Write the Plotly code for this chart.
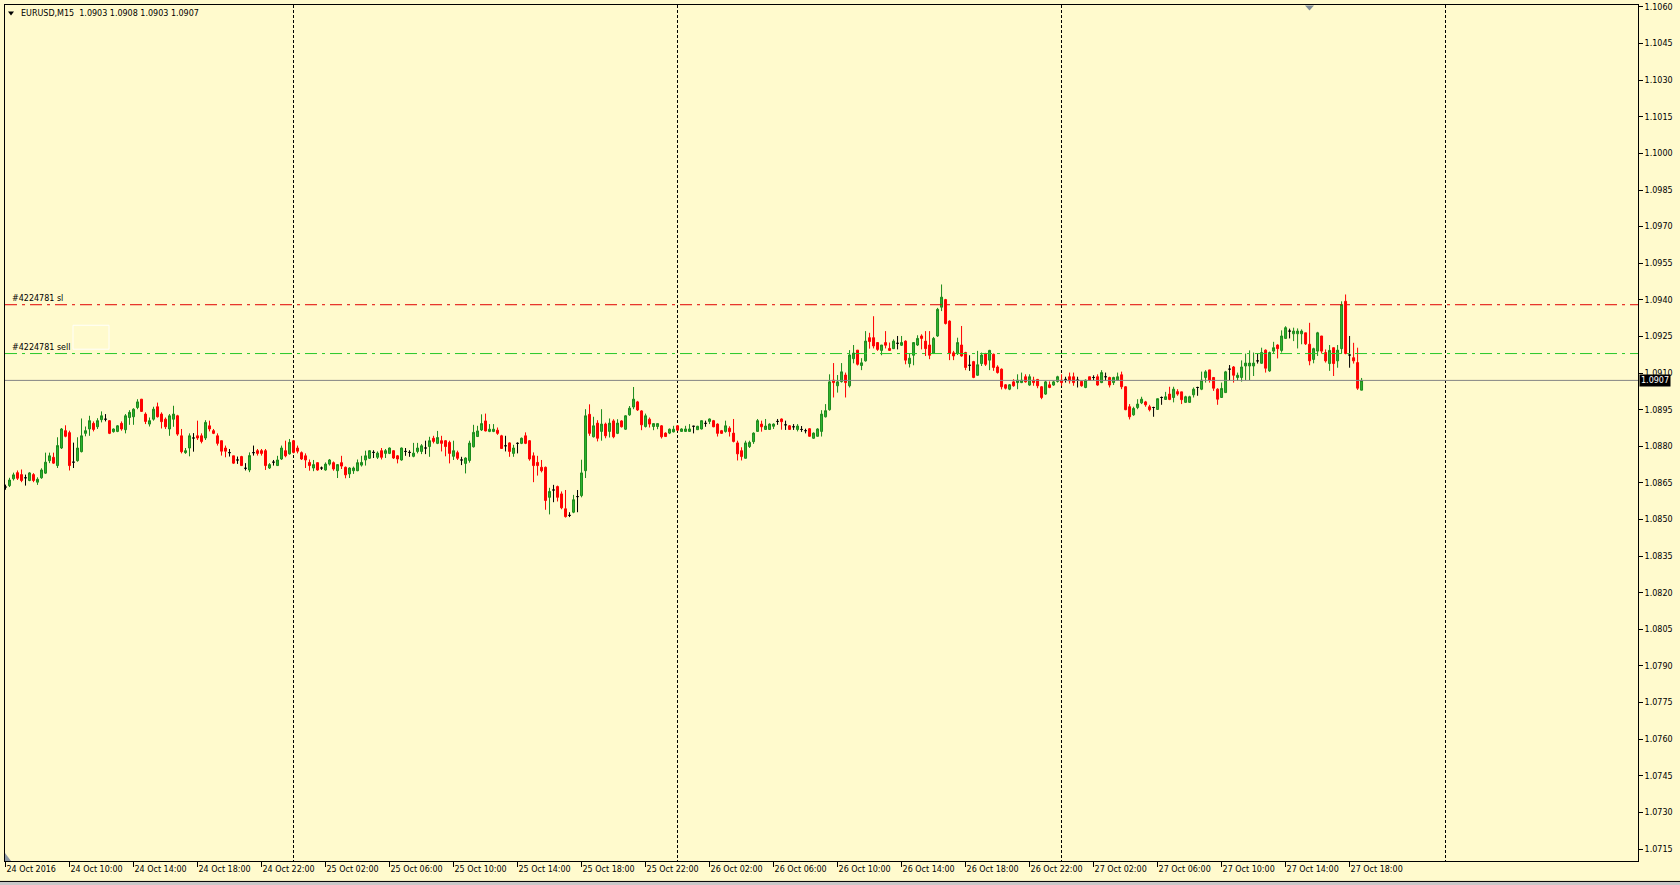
import pandas as pd
import plotly.graph_objects as go

symbol = "EURUSD,M15"
order_id = "#4224781"
start_time = "2016-10-24 06:00"
sl_price = 1.0938
sell_price = 1.0918

opens = [
    1.08633, 1.08639, 1.08667, 1.08692, 1.08684, 1.08671, 1.08660, 1.08684, 1.08653, 1.08671,
    1.08690, 1.08741, 1.08755, 1.08721, 1.08793, 1.08864, 1.08856, 1.08735, 1.08741, 1.08778,
    1.08853, 1.08871, 1.08894, 1.08880, 1.08909, 1.08911, 1.08905, 1.08860, 1.08861, 1.08894,
    1.08868, 1.08918, 1.08921, 1.08959, 1.08993, 1.08932, 1.08891, 1.08911, 1.08962, 1.08932,
    1.08911, 1.08871, 1.08911, 1.08925, 1.08843, 1.08774, 1.08793, 1.08834, 1.08843, 1.08843,
    1.08834, 1.08884, 1.08864, 1.08843, 1.08823, 1.08793, 1.08774, 1.08761, 1.08744, 1.08758,
    1.08710, 1.08703, 1.08774, 1.08782, 1.08782, 1.08782, 1.08711, 1.08735, 1.08721, 1.08748,
    1.08782, 1.08769, 1.08823, 1.08793, 1.08774, 1.08761, 1.08734, 1.08711, 1.08733, 1.08711,
    1.08703, 1.08727, 1.08733, 1.08700, 1.08733, 1.08714, 1.08687, 1.08700, 1.08700, 1.08723,
    1.08744, 1.08751, 1.08775, 1.08755, 1.08782, 1.08771, 1.08771, 1.08782, 1.08761, 1.08744,
    1.08779, 1.08775, 1.08759, 1.08779, 1.08779, 1.08793, 1.08799, 1.08833, 1.08812, 1.08823,
    1.08823, 1.08816, 1.08759, 1.08774, 1.08744, 1.08730, 1.08742, 1.08798, 1.08840, 1.08867,
    1.08904, 1.08861, 1.08861, 1.08866, 1.08843, 1.08802, 1.08814, 1.08771, 1.08812, 1.08812,
    1.08843, 1.08823, 1.08761, 1.08734, 1.08714, 1.08714, 1.08591, 1.08621, 1.08635, 1.08605,
    1.08544, 1.08517, 1.08530, 1.08594, 1.08598, 1.08700, 1.08931, 1.08839, 1.08895, 1.08861,
    1.08891, 1.08861, 1.08904, 1.08853, 1.08904, 1.08870, 1.08929, 1.08961, 1.08982, 1.08945,
    1.08881, 1.08911, 1.08881, 1.08881, 1.08884, 1.08854, 1.08854, 1.08859, 1.08884, 1.08861,
    1.08861, 1.08861, 1.08882, 1.08868, 1.08871, 1.08894, 1.08902, 1.08905, 1.08891, 1.08864,
    1.08861, 1.08874, 1.08854, 1.08814, 1.08782, 1.08751, 1.08799, 1.08819, 1.08861, 1.08891,
    1.08869, 1.08869, 1.08882, 1.08902, 1.08912, 1.08888, 1.08884, 1.08880, 1.08869, 1.08869,
    1.08864, 1.08872, 1.08833, 1.08841, 1.08861, 1.08921, 1.08950, 1.09071, 1.09048, 1.09065,
    1.09092, 1.09048, 1.09159, 1.09194, 1.09131, 1.09150, 1.09245, 1.09245, 1.09225, 1.09193,
    1.09225, 1.09201, 1.09200, 1.09222, 1.09214, 1.09231, 1.09139, 1.09173, 1.09215, 1.09252,
    1.09231, 1.09215, 1.09181, 1.09252, 1.09370, 1.09401, 1.09313, 1.09183, 1.09180, 1.09215,
    1.09184, 1.09132, 1.09147, 1.09091, 1.09139, 1.09180, 1.09153, 1.09177, 1.09125, 1.09116,
    1.09052, 1.09034, 1.09064, 1.09061, 1.09061, 1.09085, 1.09051, 1.09071, 1.09074, 1.09044,
    1.09014, 1.09052, 1.09051, 1.09066, 1.09071, 1.09074, 1.09085, 1.09085, 1.09071, 1.09066,
    1.09041, 1.09085, 1.09082, 1.09085, 1.09061, 1.09085, 1.09082, 1.09061, 1.09071, 1.09093,
    1.09044, 1.08962, 1.08929, 1.08959, 1.08978, 1.08982, 1.08962, 1.08959, 1.08951, 1.09000,
    1.08992, 1.09014, 1.09000, 1.09024, 1.09023, 1.08980, 1.08980, 1.09011, 1.09041, 1.09034,
    1.09082, 1.09113, 1.09082, 1.09034, 1.09000, 1.09020, 1.09116, 1.09125, 1.09082, 1.09082,
    1.09129, 1.09129, 1.09129, 1.09150, 1.09140, 1.09194, 1.09109, 1.09190, 1.09215, 1.09193,
    1.09242, 1.09272, 1.09261, 1.09261, 1.09261, 1.09265, 1.09218, 1.09156, 1.09190, 1.09252,
    1.09184, 1.09139, 1.09204, 1.09150, 1.09200, 1.09394, 1.09174, 1.09163, 1.09143, 1.09030,
]

highs = [
    1.08643, 1.08671, 1.08692, 1.08701, 1.08705, 1.08684, 1.08694, 1.08690, 1.08673, 1.08710,
    1.08774, 1.08774, 1.08774, 1.08837, 1.08875, 1.08886, 1.08864, 1.08815, 1.08837, 1.08914,
    1.08881, 1.08925, 1.08902, 1.08915, 1.08943, 1.08932, 1.08907, 1.08873, 1.08887, 1.08902,
    1.08932, 1.08948, 1.08956, 1.08993, 1.08994, 1.08939, 1.08918, 1.08962, 1.08979, 1.08939,
    1.08918, 1.08932, 1.08966, 1.08929, 1.08871, 1.08793, 1.08853, 1.08854, 1.08905, 1.08853,
    1.08907, 1.08905, 1.08871, 1.08853, 1.08823, 1.08803, 1.08789, 1.08761, 1.08758, 1.08761,
    1.08731, 1.08775, 1.08803, 1.08789, 1.08789, 1.08789, 1.08731, 1.08744, 1.08761, 1.08803,
    1.08823, 1.08830, 1.08826, 1.08803, 1.08779, 1.08771, 1.08746, 1.08744, 1.08734, 1.08717,
    1.08734, 1.08748, 1.08738, 1.08727, 1.08761, 1.08717, 1.08714, 1.08717, 1.08746, 1.08761,
    1.08782, 1.08784, 1.08784, 1.08779, 1.08793, 1.08789, 1.08795, 1.08784, 1.08764, 1.08795,
    1.08793, 1.08784, 1.08814, 1.08814, 1.08809, 1.08823, 1.08839, 1.08843, 1.08863, 1.08843,
    1.08825, 1.08823, 1.08823, 1.08782, 1.08757, 1.08755, 1.08823, 1.08888, 1.08884, 1.08931,
    1.08934, 1.08891, 1.08891, 1.08877, 1.08847, 1.08843, 1.08816, 1.08806, 1.08816, 1.08836,
    1.08857, 1.08825, 1.08775, 1.08761, 1.08744, 1.08717, 1.08630, 1.08642, 1.08639, 1.08615,
    1.08621, 1.08530, 1.08601, 1.08621, 1.08745, 1.08952, 1.08972, 1.08921, 1.08907, 1.08952,
    1.08897, 1.08914, 1.08911, 1.08911, 1.08907, 1.08927, 1.08965, 1.09043, 1.08986, 1.08948,
    1.08934, 1.08918, 1.08893, 1.08893, 1.08887, 1.08857, 1.08873, 1.08884, 1.08887, 1.08874,
    1.08884, 1.08891, 1.08884, 1.08884, 1.08905, 1.08905, 1.08914, 1.08908, 1.08894, 1.08867,
    1.08905, 1.08882, 1.08912, 1.08823, 1.08796, 1.08823, 1.08823, 1.08857, 1.08912, 1.08905,
    1.08912, 1.08894, 1.08894, 1.08912, 1.08914, 1.08905, 1.08887, 1.08891, 1.08891, 1.08883,
    1.08872, 1.08874, 1.08857, 1.08874, 1.08948, 1.08973, 1.09095, 1.09141, 1.09092, 1.09141,
    1.09102, 1.09194, 1.09215, 1.09194, 1.09161, 1.09272, 1.09265, 1.09333, 1.09227, 1.09215,
    1.09272, 1.09225, 1.09238, 1.09252, 1.09252, 1.09234, 1.09180, 1.09227, 1.09255, 1.09259,
    1.09272, 1.09272, 1.09248, 1.09367, 1.09463, 1.09404, 1.09316, 1.09191, 1.09245, 1.09293,
    1.09187, 1.09173, 1.09150, 1.09191, 1.09184, 1.09183, 1.09195, 1.09180, 1.09132, 1.09119,
    1.09055, 1.09055, 1.09075, 1.09095, 1.09102, 1.09095, 1.09095, 1.09085, 1.09076, 1.09047,
    1.09068, 1.09066, 1.09068, 1.09089, 1.09095, 1.09085, 1.09102, 1.09102, 1.09085, 1.09068,
    1.09074, 1.09085, 1.09091, 1.09095, 1.09112, 1.09102, 1.09085, 1.09085, 1.09102, 1.09106,
    1.09046, 1.08973, 1.08962, 1.08993, 1.09003, 1.08986, 1.08970, 1.08962, 1.08995, 1.09004,
    1.09023, 1.09044, 1.09044, 1.09034, 1.09023, 1.09007, 1.09007, 1.09041, 1.09044, 1.09106,
    1.09112, 1.09113, 1.09084, 1.09038, 1.09061, 1.09109, 1.09133, 1.09129, 1.09102, 1.09152,
    1.09180, 1.09193, 1.09184, 1.09180, 1.09204, 1.09197, 1.09188, 1.09228, 1.09218, 1.09275,
    1.09292, 1.09282, 1.09286, 1.09283, 1.09279, 1.09265, 1.09306, 1.09204, 1.09269, 1.09252,
    1.09197, 1.09215, 1.09204, 1.09215, 1.09394, 1.09422, 1.09252, 1.09224, 1.09204, 1.09080,
]

lows = [
    1.08622, 1.08633, 1.08660, 1.08662, 1.08653, 1.08639, 1.08657, 1.08653, 1.08642, 1.08667,
    1.08687, 1.08731, 1.08728, 1.08711, 1.08789, 1.08837, 1.08701, 1.08711, 1.08737, 1.08775,
    1.08841, 1.08843, 1.08861, 1.08871, 1.08898, 1.08902, 1.08850, 1.08856, 1.08858, 1.08864,
    1.08853, 1.08888, 1.08888, 1.08952, 1.08941, 1.08891, 1.08881, 1.08905, 1.08918, 1.08873,
    1.08871, 1.08843, 1.08880, 1.08843, 1.08771, 1.08769, 1.08759, 1.08778, 1.08826, 1.08812,
    1.08826, 1.08861, 1.08850, 1.08803, 1.08762, 1.08755, 1.08758, 1.08728, 1.08728, 1.08720,
    1.08701, 1.08694, 1.08762, 1.08762, 1.08762, 1.08703, 1.08707, 1.08721, 1.08720, 1.08744,
    1.08755, 1.08766, 1.08771, 1.08771, 1.08744, 1.08711, 1.08700, 1.08698, 1.08700, 1.08703,
    1.08700, 1.08721, 1.08700, 1.08670, 1.08707, 1.08669, 1.08670, 1.08687, 1.08698, 1.08717,
    1.08721, 1.08748, 1.08752, 1.08748, 1.08746, 1.08752, 1.08768, 1.08748, 1.08730, 1.08741,
    1.08761, 1.08757, 1.08755, 1.08771, 1.08768, 1.08768, 1.08757, 1.08812, 1.08809, 1.08779,
    1.08759, 1.08730, 1.08744, 1.08744, 1.08723, 1.08689, 1.08733, 1.08795, 1.08839, 1.08863,
    1.08861, 1.08858, 1.08858, 1.08847, 1.08789, 1.08779, 1.08757, 1.08757, 1.08771, 1.08809,
    1.08809, 1.08741, 1.08653, 1.08680, 1.08693, 1.08540, 1.08521, 1.08571, 1.08574, 1.08542,
    1.08508, 1.08510, 1.08526, 1.08530, 1.08591, 1.08670, 1.08843, 1.08836, 1.08820, 1.08823,
    1.08833, 1.08836, 1.08833, 1.08850, 1.08877, 1.08867, 1.08925, 1.08952, 1.08945, 1.08866,
    1.08877, 1.08877, 1.08866, 1.08870, 1.08832, 1.08839, 1.08850, 1.08857, 1.08863, 1.08859,
    1.08859, 1.08859, 1.08853, 1.08867, 1.08869, 1.08880, 1.08891, 1.08878, 1.08840, 1.08851,
    1.08856, 1.08840, 1.08816, 1.08742, 1.08742, 1.08750, 1.08793, 1.08810, 1.08860, 1.08860,
    1.08867, 1.08868, 1.08871, 1.08888, 1.08868, 1.08867, 1.08867, 1.08867, 1.08861, 1.08859,
    1.08853, 1.08840, 1.08831, 1.08840, 1.08840, 1.08918, 1.08946, 1.09000, 1.09020, 1.09061,
    1.09000, 1.09041, 1.09140, 1.09131, 1.09112, 1.09147, 1.09200, 1.09201, 1.09191, 1.09173,
    1.09201, 1.09191, 1.09199, 1.09197, 1.09211, 1.09136, 1.09123, 1.09132, 1.09211, 1.09197,
    1.09170, 1.09157, 1.09178, 1.09248, 1.09354, 1.09299, 1.09153, 1.09153, 1.09174, 1.09167,
    1.09112, 1.09109, 1.09079, 1.09089, 1.09129, 1.09129, 1.09112, 1.09109, 1.09098, 1.09033,
    1.09033, 1.09030, 1.09044, 1.09034, 1.09059, 1.09061, 1.09048, 1.09048, 1.09038, 1.08993,
    1.09011, 1.09038, 1.09048, 1.09061, 1.09048, 1.09061, 1.09057, 1.09048, 1.09041, 1.09044,
    1.09038, 1.09068, 1.09071, 1.09048, 1.09059, 1.09068, 1.09041, 1.09051, 1.09068, 1.09034,
    1.08948, 1.08910, 1.08925, 1.08952, 1.08973, 1.08962, 1.08943, 1.08921, 1.08951, 1.08970,
    1.08991, 1.08989, 1.08980, 1.09007, 1.08973, 1.08978, 1.08978, 1.09000, 1.09007, 1.09030,
    1.09061, 1.09061, 1.09027, 1.08970, 1.09000, 1.09020, 1.09071, 1.09061, 1.09068, 1.09065,
    1.09071, 1.09071, 1.09088, 1.09139, 1.09139, 1.09102, 1.09105, 1.09180, 1.09160, 1.09184,
    1.09241, 1.09242, 1.09231, 1.09201, 1.09218, 1.09215, 1.09132, 1.09140, 1.09170, 1.09180,
    1.09143, 1.09109, 1.09088, 1.09122, 1.09180, 1.09177, 1.09122, 1.09139, 1.09031, 1.09030,
]

closes = [
    1.08633, 1.08662, 1.08683, 1.08669, 1.08660, 1.08671, 1.08691, 1.08660, 1.08665, 1.08703,
    1.08735, 1.08761, 1.08731, 1.08803, 1.08871, 1.08841, 1.08721, 1.08735, 1.08793, 1.08843,
    1.08864, 1.08905, 1.08869, 1.08905, 1.08925, 1.08911, 1.08853, 1.08871, 1.08884, 1.08871,
    1.08925, 1.08939, 1.08952, 1.08982, 1.08943, 1.08902, 1.08905, 1.08952, 1.08921, 1.08901,
    1.08880, 1.08925, 1.08932, 1.08850, 1.08778, 1.08782, 1.08843, 1.08834, 1.08834, 1.08820,
    1.08898, 1.08871, 1.08853, 1.08812, 1.08780, 1.08780, 1.08774, 1.08731, 1.08744, 1.08721,
    1.08710, 1.08762, 1.08774, 1.08771, 1.08771, 1.08721, 1.08725, 1.08735, 1.08744, 1.08793,
    1.08761, 1.08816, 1.08775, 1.08780, 1.08748, 1.08744, 1.08721, 1.08725, 1.08703, 1.08711,
    1.08727, 1.08744, 1.08707, 1.08725, 1.08719, 1.08683, 1.08711, 1.08711, 1.08733, 1.08734,
    1.08761, 1.08782, 1.08775, 1.08772, 1.08755, 1.08782, 1.08793, 1.08752, 1.08748, 1.08793,
    1.08779, 1.08775, 1.08772, 1.08793, 1.08802, 1.08793, 1.08823, 1.08820, 1.08836, 1.08812,
    1.08799, 1.08771, 1.08782, 1.08751, 1.08744, 1.08752, 1.08813, 1.08857, 1.08863, 1.08893,
    1.08863, 1.08870, 1.08870, 1.08853, 1.08791, 1.08802, 1.08779, 1.08793, 1.08812, 1.08833,
    1.08812, 1.08748, 1.08721, 1.08721, 1.08700, 1.08578, 1.08615, 1.08621, 1.08591, 1.08548,
    1.08512, 1.08517, 1.08581, 1.08594, 1.08691, 1.08925, 1.08853, 1.08884, 1.08833, 1.08891,
    1.08843, 1.08895, 1.08839, 1.08895, 1.08880, 1.08925, 1.08956, 1.08993, 1.08949, 1.08888,
    1.08925, 1.08891, 1.08893, 1.08893, 1.08839, 1.08840, 1.08870, 1.08870, 1.08866, 1.08871,
    1.08871, 1.08871, 1.08882, 1.08882, 1.08905, 1.08894, 1.08912, 1.08880, 1.08853, 1.08853,
    1.08884, 1.08860, 1.08820, 1.08769, 1.08758, 1.08814, 1.08816, 1.08854, 1.08905, 1.08880,
    1.08883, 1.08891, 1.08891, 1.08902, 1.08901, 1.08888, 1.08869, 1.08880, 1.08883, 1.08869,
    1.08864, 1.08841, 1.08854, 1.08871, 1.08932, 1.08946, 1.09064, 1.09061, 1.09064, 1.09105,
    1.09061, 1.09174, 1.09182, 1.09136, 1.09142, 1.09231, 1.09229, 1.09211, 1.09197, 1.09215,
    1.09214, 1.09193, 1.09231, 1.09222, 1.09225, 1.09153, 1.09161, 1.09225, 1.09242, 1.09242,
    1.09200, 1.09173, 1.09242, 1.09361, 1.09411, 1.09303, 1.09180, 1.09170, 1.09225, 1.09170,
    1.09123, 1.09132, 1.09082, 1.09134, 1.09174, 1.09136, 1.09193, 1.09123, 1.09102, 1.09044,
    1.09038, 1.09052, 1.09048, 1.09071, 1.09071, 1.09064, 1.09085, 1.09061, 1.09048, 1.09000,
    1.09064, 1.09041, 1.09064, 1.09085, 1.09061, 1.09074, 1.09068, 1.09061, 1.09071, 1.09048,
    1.09071, 1.09071, 1.09082, 1.09051, 1.09102, 1.09085, 1.09051, 1.09082, 1.09085, 1.09044,
    1.08950, 1.08921, 1.08955, 1.08973, 1.08993, 1.08970, 1.08950, 1.08959, 1.08995, 1.09000,
    1.09003, 1.08992, 1.09034, 1.09014, 1.08991, 1.09003, 1.09003, 1.09034, 1.09041, 1.09071,
    1.09105, 1.09071, 1.09038, 1.08993, 1.09037, 1.09105, 1.09116, 1.09091, 1.09091, 1.09125,
    1.09141, 1.09141, 1.09141, 1.09150, 1.09184, 1.09120, 1.09184, 1.09204, 1.09200, 1.09252,
    1.09286, 1.09272, 1.09272, 1.09272, 1.09272, 1.09220, 1.09150, 1.09200, 1.09265, 1.09190,
    1.09150, 1.09193, 1.09139, 1.09194, 1.09381, 1.09180, 1.09174, 1.09150, 1.09038, 1.09070,
]

tick_times = [
    "2016-10-24 06:00", "2016-10-24 10:00", "2016-10-24 14:00", "2016-10-24 18:00",
    "2016-10-24 22:00", "2016-10-25 02:00", "2016-10-25 06:00", "2016-10-25 10:00",
    "2016-10-25 14:00", "2016-10-25 18:00", "2016-10-25 22:00", "2016-10-26 02:00",
    "2016-10-26 06:00", "2016-10-26 10:00", "2016-10-26 14:00", "2016-10-26 18:00",
    "2016-10-26 22:00", "2016-10-27 02:00", "2016-10-27 06:00", "2016-10-27 10:00",
    "2016-10-27 14:00", "2016-10-27 18:00",
]
tick_labels = [
    "24 Oct 2016", "24 Oct 10:00", "24 Oct 14:00", "24 Oct 18:00", "24 Oct 22:00",
    "25 Oct 02:00", "25 Oct 06:00", "25 Oct 10:00", "25 Oct 14:00", "25 Oct 18:00",
    "25 Oct 22:00", "26 Oct 02:00", "26 Oct 06:00", "26 Oct 10:00", "26 Oct 14:00",
    "26 Oct 18:00", "26 Oct 22:00", "27 Oct 02:00", "27 Oct 06:00", "27 Oct 10:00",
    "27 Oct 14:00", "27 Oct 18:00",
]
price_ticks = [
    1.0715, 1.0730, 1.0745, 1.0760, 1.0775, 1.0790, 1.0805, 1.0820, 1.0835, 1.0850,
    1.0865, 1.0880, 1.0895, 1.0910, 1.0925, 1.0940, 1.0955, 1.0970, 1.0985, 1.1000,
    1.1015, 1.1030, 1.1045, 1.1060,
]

BG = "#FFFACD"
FONT = "DejaVu Sans"

times = pd.date_range(start_time, periods=len(closes), freq="15min")
n = len(closes)
up = [i for i in range(n) if closes[i] > opens[i]]
dn = [i for i in range(n) if closes[i] < opens[i]]
dj = [i for i in range(n) if closes[i] == opens[i]]


def pick(seq, idx):
    return [seq[i] for i in idx]


fig = go.Figure()
styles = [
    (up, "#1C8A1C", "#2FB52F"),
    (dn, "#FF0000", "#FF0000"),
    (dj, "#000000", "#000000"),
]
for idx, lc, fc in styles:
    fig.add_trace(go.Candlestick(
        x=pick(times, idx), open=pick(opens, idx), high=pick(highs, idx),
        low=pick(lows, idx), close=pick(closes, idx),
        increasing=dict(line=dict(color=lc, width=1), fillcolor=fc),
        decreasing=dict(line=dict(color=lc, width=1), fillcolor=fc),
        whiskerwidth=0, showlegend=False, hoverinfo="skip",
    ))

last = n - 1
header = (f"{symbol}\u00a0\u00a0{opens[last]:.4f} {highs[last]:.4f} "
          f"{lows[last]:.4f} {closes[last]:.4f}")

# plot geometry in pixels, for paper-coordinate decorations
PL, PR, PT, PB = 5, 1638, 3, 861
PW, PH = PR - PL, PB - PT


def px(xp):
    return (xp - PL) / PW


def py(yp):
    return (PB - yp) / PH


shapes = [
    dict(type="line", xref="paper", yref="y", x0=0, x1=1, y0=sl_price, y1=sl_price,
         line=dict(color="#E00000", width=1, dash="12px,5px,3px,5px")),
    dict(type="line", xref="paper", yref="y", x0=0, x1=1, y0=sell_price, y1=sell_price,
         line=dict(color="#28C828", width=1, dash="12px,5px,3px,5px")),
    dict(type="line", xref="paper", yref="y", x0=0, x1=1, y0=closes[last], y1=closes[last],
         line=dict(color="#858585", width=1)),
    # header triangle
    dict(type="path", xref="paper", yref="paper",
         path=f"M {px(8)},{py(9.5)} L {px(14)},{py(9.5)} L {px(11)},{py(13.5)} Z",
         fillcolor="#000000", line=dict(width=0)),
    # chart-shift marker
    dict(type="path", xref="paper", yref="paper",
         path=f"M {px(1305)},{py(3.5)} L {px(1314)},{py(3.5)} L {px(1309.5)},{py(8.5)} Z",
         fillcolor="#7F8C99", line=dict(width=0)),
    # bottom-left corner marker
    dict(type="path", xref="paper", yref="paper",
         path=f"M {px(5)},{py(853)} L {px(5)},{py(861)} L {px(11)},{py(861)} Z",
         fillcolor="#8C98A4", line=dict(width=0)),
    # faint label box
    dict(type="rect", xref="paper", yref="paper", x0=px(73), x1=px(109), y0=py(348), y1=py(324),
         line=dict(color="rgba(255,255,255,0.9)", width=1)),
    # window bottom border
    dict(type="rect", xref="paper", yref="paper", x0=px(0), x1=px(1680), y0=py(885), y1=py(881),
         fillcolor="#C8C8C8", line=dict(width=0)),
    dict(type="line", xref="paper", yref="paper", x0=px(0), x1=px(1680), y0=py(881.5), y1=py(881.5),
         line=dict(color="#000000", width=1)),
]

annotations = [
    dict(xref="paper", yref="paper", x=0, y=1, xanchor="left", yanchor="middle",
         xshift=14, yshift=-8.5, text=header, showarrow=False,
         font=dict(family=FONT, size=8, color="#000000")),
    dict(xref="paper", yref="y", x=0, y=sl_price, xanchor="left", yanchor="middle",
         xshift=5, yshift=6, text=f"{order_id} sl", showarrow=False,
         font=dict(family=FONT, size=8, color="#000000")),
    dict(xref="paper", yref="y", x=0, y=sell_price, xanchor="left", yanchor="middle",
         xshift=5, yshift=6, text=f"{order_id} sell", showarrow=False,
         font=dict(family=FONT, size=8, color="#000000")),
    dict(xref="paper", yref="y", x=1, y=closes[last], xanchor="left", yanchor="middle",
         xshift=1, text=f"{closes[last]:.4f}", showarrow=False, bgcolor="#000000",
         borderpad=1, font=dict(family=FONT, size=8, color="#FFFFFF")),
]

fig.update_layout(
    width=1680, height=885, autosize=False,
    margin=dict(l=PL, r=1680 - PR, t=PT, b=885 - PB, pad=0),
    paper_bgcolor=BG, plot_bgcolor=BG,
    font=dict(family=FONT, size=8, color="#000000"),
    shapes=shapes, annotations=annotations,
    showlegend=False,
    xaxis=dict(
        type="date", range=["2016-10-24 05:58:08", "2016-10-28 12:01:30"],
        rangeslider=dict(visible=False),
        tickvals=tick_times, ticktext=tick_labels,
        ticks="outside", ticklen=5, tickcolor="#000000", tickwidth=1,
        ticklabelposition="outside right",
        showline=True, linecolor="#000000", linewidth=1, mirror=True,
        showgrid=False, zeroline=False,
        tickfont=dict(family=FONT, size=8, color="#000000"),
        minor=dict(dtick=86400000, tick0="2016-10-24", showgrid=True,
                   gridcolor="#000000", griddash="3px,2px", gridwidth=1, ticks=""),
    ),
    yaxis=dict(
        side="right", range=[1.07101, 1.10608],
        tickvals=price_ticks, ticktext=[f"{v:.4f}" for v in price_ticks],
        ticks="outside", ticklen=4, tickcolor="#000000", tickwidth=1,
        showline=True, linecolor="#000000", linewidth=1, mirror=True,
        showgrid=False, zeroline=False,
        tickfont=dict(family=FONT, size=8, color="#000000"),
    ),
)

fig.write_html(
    "out.html",
    config={"displayModeBar": False, "staticPlot": True},
    post_script="document.body.style.margin='0px';document.body.style.overflow='hidden';",
)
